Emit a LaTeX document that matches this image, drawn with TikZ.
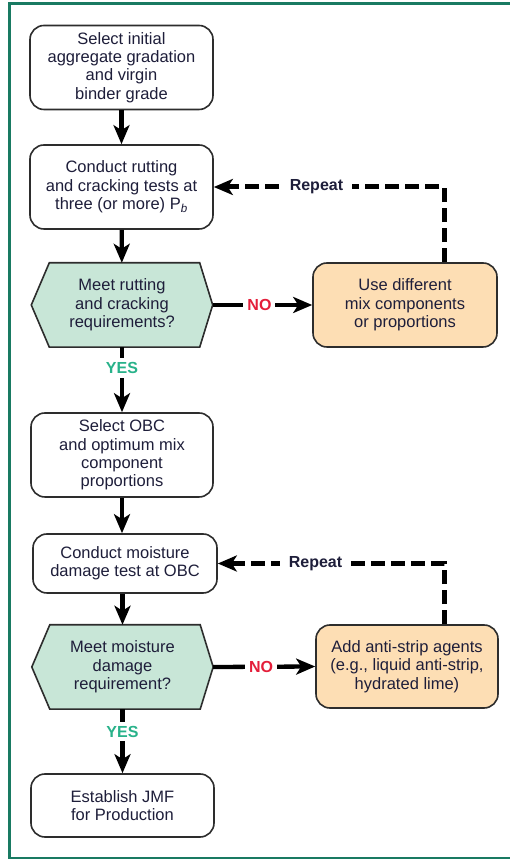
\documentclass[tikz,border=0pt]{standalone}
\usepackage{fontspec}
\setmainfont{Liberation Sans}
\usetikzlibrary{arrows.meta,backgrounds}

\definecolor{frame}{RGB}{25,122,98}
\definecolor{ink}{RGB}{30,30,58}
\definecolor{boxline}{RGB}{45,45,45}
\definecolor{mint}{RGB}{200,230,215}
\definecolor{peach}{RGB}{253,222,180}
\definecolor{nored}{RGB}{228,30,58}
\definecolor{yesgreen}{RGB}{40,178,138}

\tikzset{
  txt/.style={font=\fontsize{16.5}{18.3}\selectfont, text=ink, align=center, inner sep=0pt},
  stepbox/.style={txt, draw=boxline, line width=1.6pt, rounded corners=14pt, fill=white},
  actbox/.style={stepbox, fill=peach},
  hexnode/.style={txt, minimum width=181pt, minimum height=84pt},
  flow/.style={line width=4.3pt, -{Stealth[length=19pt,width=16pt,inset=5pt]}},
  loop/.style={flow, line width=5pt, dash pattern=on 14pt off 6pt},
  lbl/.style={font=\bfseries\fontsize{16}{18}\selectfont, fill=white, inner ysep=4pt},
  repeatlbl/.style={lbl, text=ink, inner xsep=9pt},
  nolbl/.style={lbl, text=nored, inner xsep=4pt},
  yeslbl/.style={lbl, text=yesgreen, inner xsep=4pt},
}

\begin{document}
\begin{tikzpicture}[x=1pt,y=1pt]
\useasboundingbox (0,0) rectangle (509,859);

% main column
\node[stepbox, minimum width=183pt, minimum height=84pt] (b1) at (121.5,791.5)
  {Select initial\\aggregate gradation\\and virgin\\binder grade};
\node[stepbox, minimum width=183pt, minimum height=84pt] (b2) at (121.5,672)
  {Conduct rutting\\and cracking tests at\\three (or more) P\textsubscript{\itshape b}};
\node[hexnode] (h1) at (122,554)
  {Meet rutting\\and cracking\\requirements?};
\node[stepbox, minimum width=182pt, minimum height=84pt] (b3) at (122,404)
  {Select OBC\\and optimum mix\\component\\proportions};
\node[stepbox, minimum width=184pt, minimum height=59pt] (b4) at (125,295.5)
  {Conduct moisture\\damage test at OBC};
\node[hexnode] (h2) at (122.5,192)
  {Meet moisture\\damage\\requirement?};
\node[stepbox, minimum width=183pt, minimum height=63pt] (b5) at (122.5,53.5)
  {Establish JMF\\for Production};

% corrective actions
\node[actbox, minimum width=184pt, minimum height=84pt] (o1) at (405,554)
  {Use different\\mix components\\or proportions};
\node[actbox, minimum width=182pt, minimum height=83pt] (o2) at (407,192.5)
  {Add anti-strip agents\\(e.g., liquid anti-strip,\\hydrated lime)};

% page, frame and decision hexagons behind the text
\begin{scope}[on background layer]
  \fill[white] (0,0) rectangle (509,859);
  \draw[frame, line width=2.5pt] (9.7,1) rectangle (530,855.3);
  \foreach \h in {h1,h2}{
    \filldraw[fill=mint, draw=boxline, line width=1.6pt, line join=miter]
      (\h.west) -- ([xshift=18pt]\h.north west) -- ([xshift=-13pt]\h.north east)
      -- (\h.east) -- ([xshift=-13pt]\h.south east) -- ([xshift=18pt]\h.south west)
      -- cycle;
  }
\end{scope}

% connectors
\draw[flow] (b1) -- (b2);
\draw[flow] (b2) -- (h1);
\draw[flow] (h1) -- node[yeslbl, pos=0.32] {YES} (b3);
\draw[flow] (b3.south) -- (b3.south |- b4.north);
\draw[flow] (b4.south -| h2.north) -- (h2.north);
\draw[flow] (h2) -- node[yeslbl, pos=0.35] {YES} (b5);

\draw[flow] (h1.east) -- node[nolbl, pos=0.47] {NO} (o1.west);
\draw[flow] (h2.east) -- node[nolbl, pos=0.47] {NO} (o2.west);

\draw[loop] ([xshift=39pt]o1.north) |- node[repeatlbl, pos=0.777] {Repeat} (b2.east);
\draw[loop] ([xshift=37pt]o2.north) |- node[repeatlbl, pos=0.784] {Repeat} (b4.east);
\end{tikzpicture}
\end{document}
